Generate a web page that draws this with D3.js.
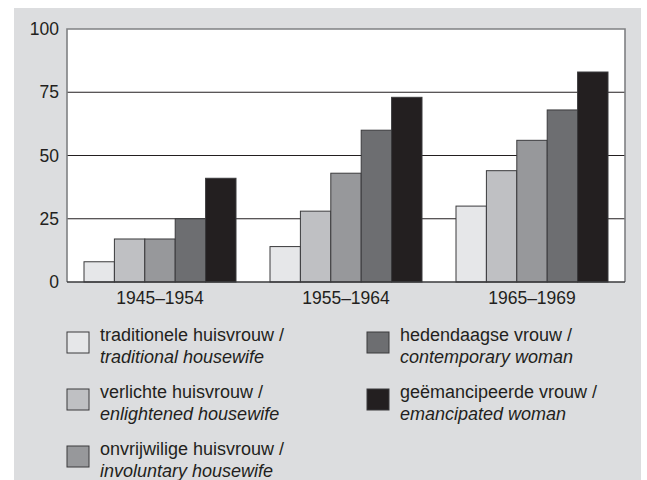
<!DOCTYPE html>
<html><head><meta charset="utf-8">
<script src="https://cdn.jsdelivr.net/npm/d3@7"></script>
<style>body{margin:0;background:#fff}svg{display:block}</style>
</head><body>
<svg id="c" width="647" height="480" font-family="'Liberation Sans', Arial, sans-serif"></svg>
<script>
const periods = ["1945–1954", "1955–1964", "1965–1969"];
const seriesNL = ["traditionele huisvrouw /", "verlichte huisvrouw /", "onvrijwilige huisvrouw /", "hedendaagse vrouw /", "geëmancipeerde vrouw /"];
const seriesEN = ["traditional housewife", "enlightened housewife", "involuntary housewife", "contemporary woman", "emancipated woman"];
const values = [
  [8, 14, 30],
  [17, 28, 44],
  [17, 43, 56],
  [25, 60, 68],
  [41, 73, 83]
];
const colors = ["#e6e7e9", "#bfc0c3", "#97989b", "#6d6e71", "#231f20"];
const yTicks = [0, 25, 50, 75, 100];
const FONT = "'Liberation Sans', Arial, sans-serif";

const svg = d3.select("#c");
svg.append("rect").attr("x", 14).attr("y", 8).attr("width", 627).attr("height", 472).attr("fill", "#dcdddf");

const L = 67, R = 625, T = 29, B = 282;
const x0 = d3.scaleBand().domain(periods).range([L, R]).paddingInner(0).paddingOuter(0);
const x1 = d3.scaleBand().domain(d3.range(5)).range([17, x0.bandwidth() - 17]);
const y = d3.scaleLinear().domain([0, 100]).range([B, T]);

svg.append("rect").attr("x", L).attr("y", T).attr("width", R - L).attr("height", B - T).attr("fill", "#fff");

// gridlines
svg.append("g").selectAll("line").data([25, 50, 75]).join("line")
  .attr("x1", L).attr("x2", R).attr("y1", d => y(d)).attr("y2", d => y(d))
  .attr("stroke", "#231f20").attr("stroke-width", 1.2);

// bars
const g = svg.append("g");
periods.forEach((p, pi) => {
  g.append("g").attr("transform", `translate(${x0(p)},0)`)
    .selectAll("rect").data(d3.range(5)).join("rect")
    .attr("x", s => x1(s)).attr("width", x1.bandwidth())
    .attr("y", s => y(values[s][pi])).attr("height", s => B - y(values[s][pi]))
    .attr("fill", s => colors[s]).attr("stroke", "#3a3a3c").attr("stroke-width", 1);
});

// frame
svg.append("path").attr("d", `M${L},${B}V${T}H${R}V${B}`).attr("fill", "none").attr("stroke", "#7f8083").attr("stroke-width", 1.6);
svg.append("line").attr("x1", L).attr("x2", R).attr("y1", B).attr("y2", B).attr("stroke", "#3a3a3c").attr("stroke-width", 1.6);

// y axis labels
const yAxis = d3.axisLeft(y).tickValues(yTicks).tickSize(0).tickPadding(8);
const ya = svg.append("g").attr("transform", `translate(${L},0)`).call(yAxis)
  .attr("font-family", FONT).attr("font-size", 17.5);
ya.select(".domain").remove();
ya.selectAll("text").attr("fill", "#231f20");

// x axis labels
const xAxis = d3.axisBottom(x0).tickSize(0).tickPadding(10);
const xa = svg.append("g").attr("transform", `translate(0,${B})`).call(xAxis)
  .attr("font-family", FONT).attr("font-size", 17.5);
xa.select(".domain").remove();
xa.selectAll("text").attr("fill", "#231f20");

// legend
const legPos = [[67, 332], [67, 389], [67, 446], [367, 332], [367, 389]];
seriesNL.forEach((nl, i) => {
  const [lx, ly] = legPos[i];
  const lg = svg.append("g").attr("transform", `translate(${lx},${ly})`).attr("font-size", 18);
  lg.append("rect").attr("width", 22).attr("height", 21).attr("fill", colors[i]).attr("stroke", "#3a3a3c").attr("stroke-width", 1);
  lg.append("text").attr("x", 33).attr("y", 8.5).attr("fill", "#231f20").text(nl);
  lg.append("text").attr("x", 33).attr("y", 30.5).attr("font-style", "italic").attr("fill", "#231f20").text(seriesEN[i]);
});
</script>
</body></html>
